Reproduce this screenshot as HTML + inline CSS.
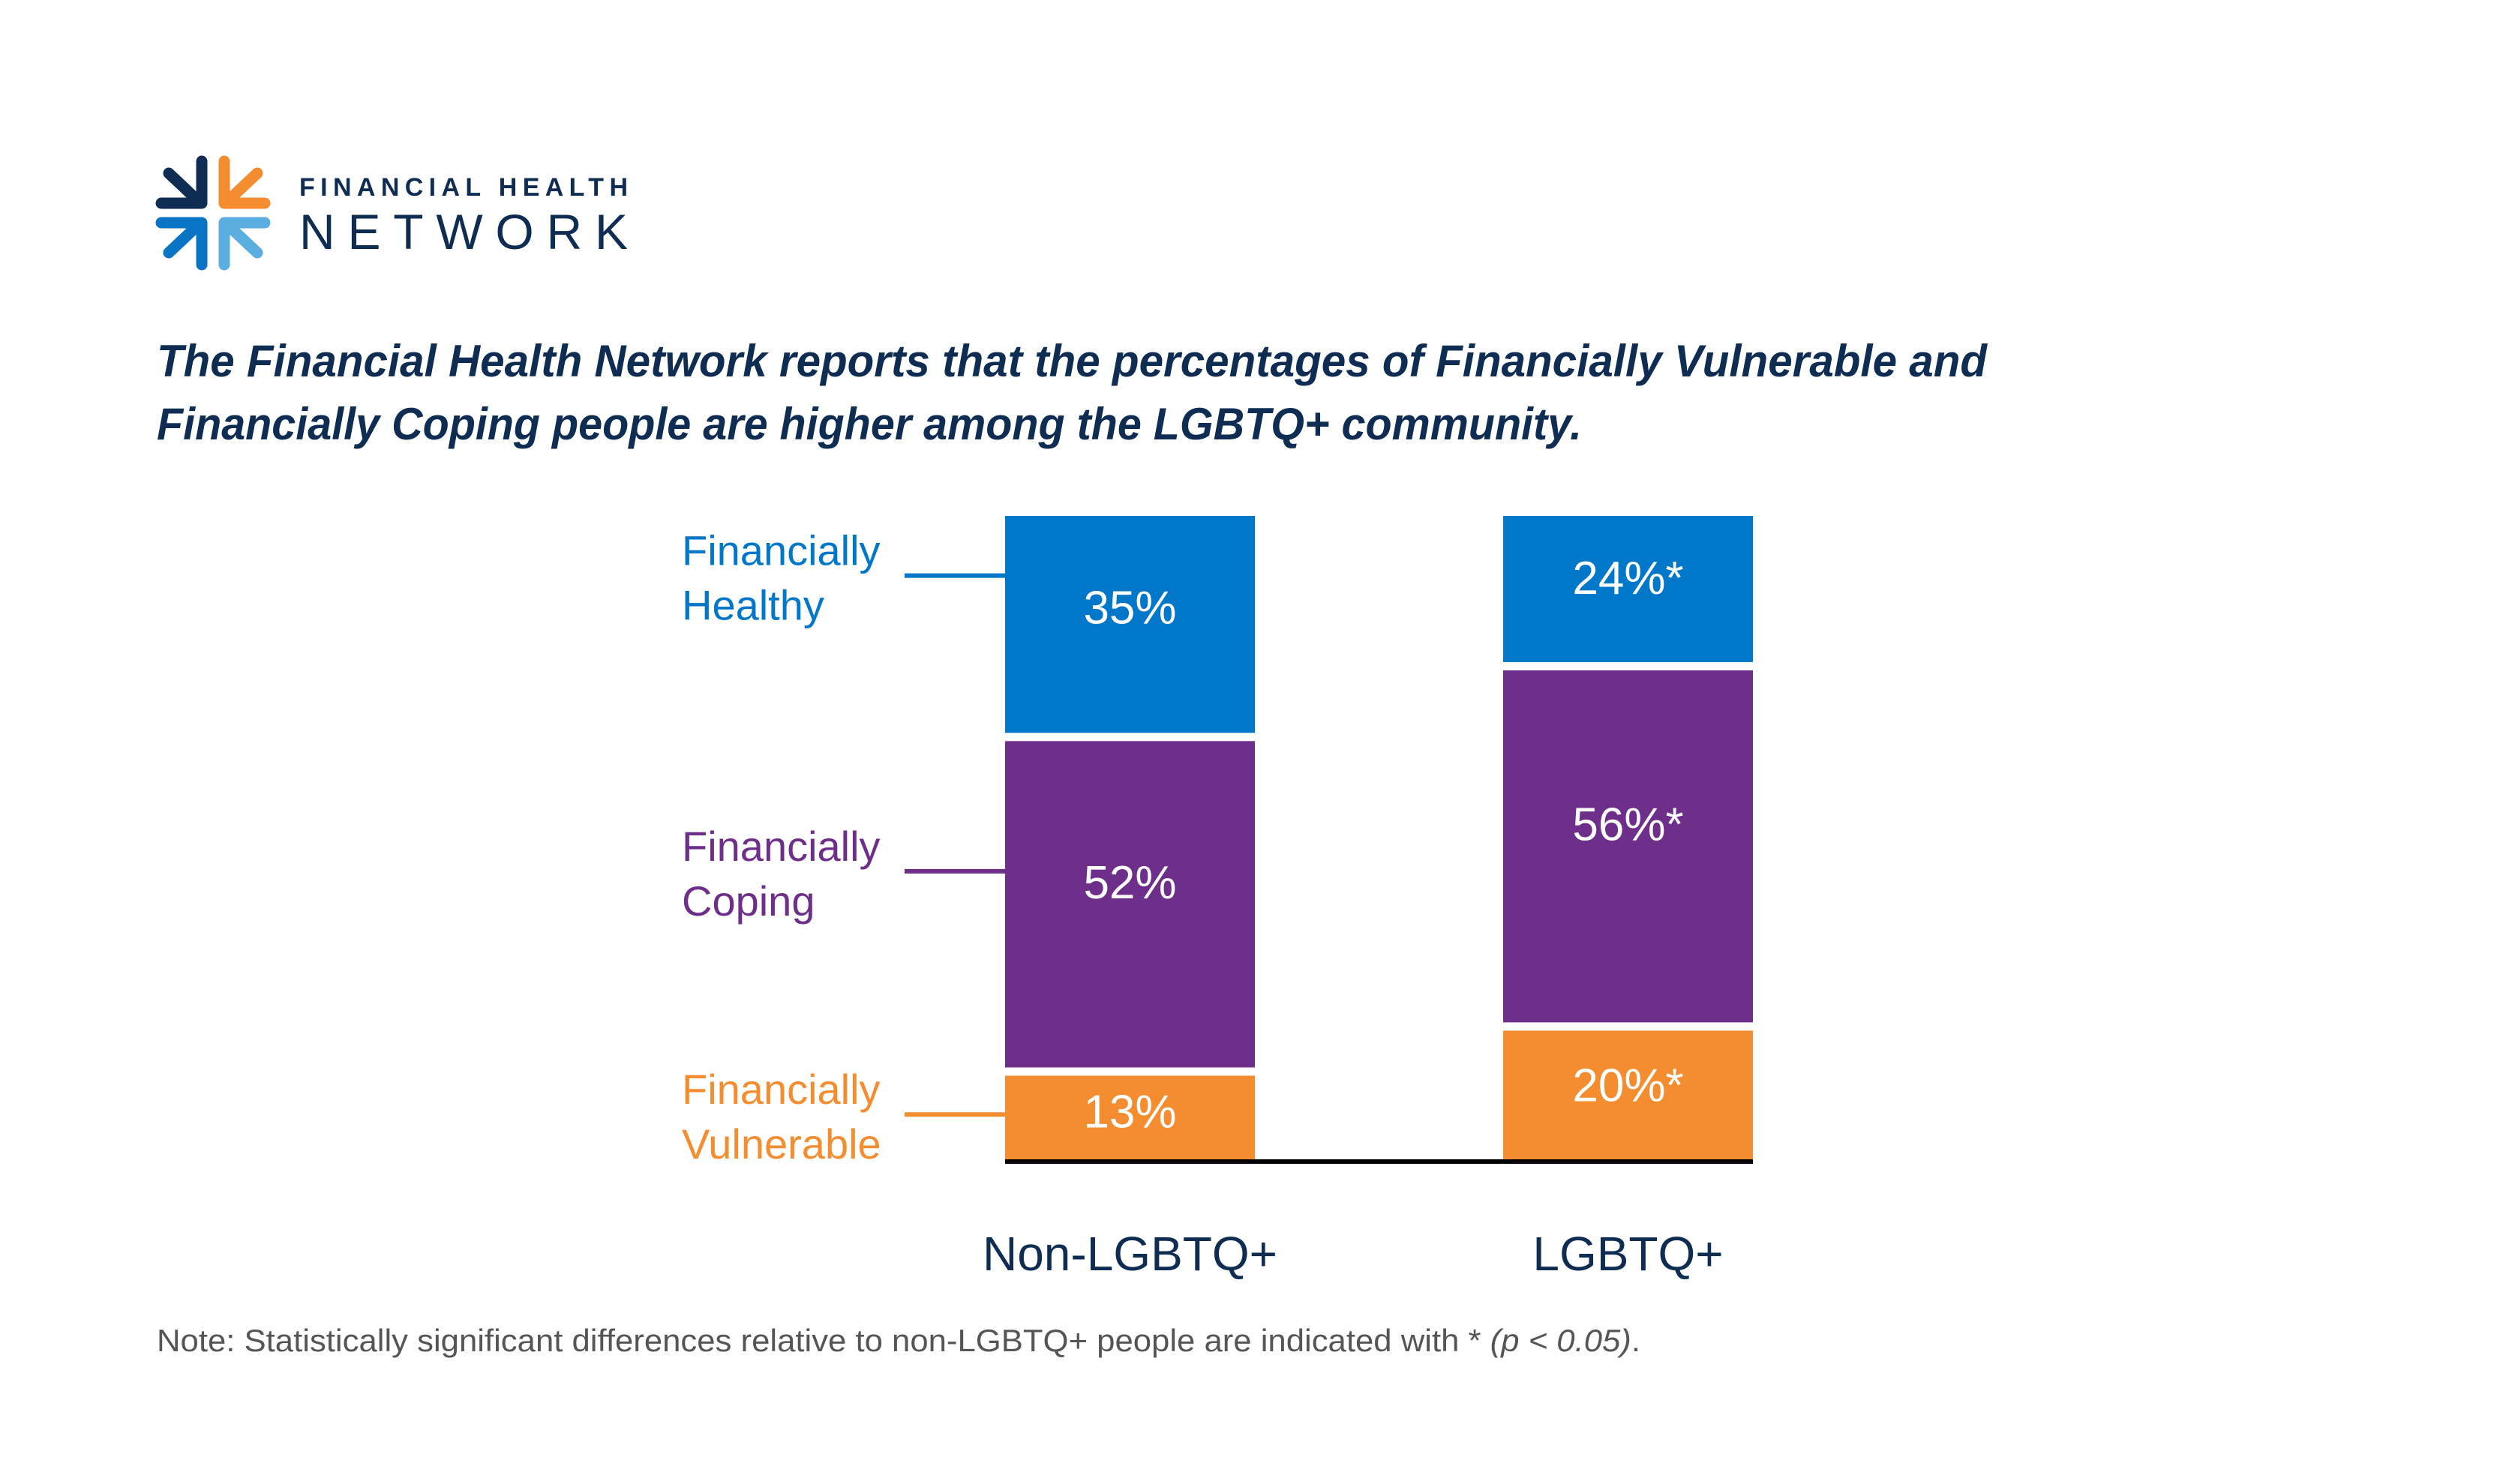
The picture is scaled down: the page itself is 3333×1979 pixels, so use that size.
<!DOCTYPE html>
<html><head><meta charset="utf-8"><style>
html,body{margin:0;padding:0;background:#fff}
svg{display:block}
text{font-family:"Liberation Sans",sans-serif}
</style></head><body>
<svg id="chart" width="3333" height="1979" viewBox="0 0 3333 1979" xmlns="http://www.w3.org/2000/svg">
<rect width="3333" height="1979" fill="#fff"/>
<g transform="translate(209,209)" stroke-linecap="round" stroke-linejoin="round" fill="none" stroke-width="15">
 <g stroke="#0f2d52"><path d="M60 6 V62 H6"/><path d="M16 22 L50 54"/></g>
 <g stroke="#f48d30"><path d="M90 6 V62 H144"/><path d="M134 22 L100 54"/></g>
 <g stroke="#0a74c4"><path d="M60 144 V88 H6"/><path d="M16 128 L50 96"/></g>
 <g stroke="#5aaee0"><path d="M90 144 V88 H144"/><path d="M134 128 L100 96"/></g>
</g>
<text x="399" y="261" font-size="34" font-weight="bold" fill="#0f2d52" textLength="438" lengthAdjust="spacing">FINANCIAL HEALTH</text>
<text x="399" y="332" font-size="66" fill="#0f2d52" textLength="438" lengthAdjust="spacing">NETWORK</text>
<text x="209" y="502" font-size="60" font-style="italic" font-weight="bold" fill="#0f2d52" textLength="2440" lengthAdjust="spacingAndGlyphs">The Financial Health Network reports that the percentages of Financially Vulnerable and</text>
<text x="209" y="586" font-size="60" font-style="italic" font-weight="bold" fill="#0f2d52" textLength="1900" lengthAdjust="spacingAndGlyphs">Financially Coping people are higher among the LGBTQ+ community.</text>
<g id="bars"></g>
<line x1="1340" x2="2337" y1="1549" y2="1549" stroke="#000" stroke-width="6"/>
<text x="209" y="1802" font-size="42" fill="#555" textLength="1978" lengthAdjust="spacingAndGlyphs">Note: Statistically significant differences relative to non-LGBTQ+ people are indicated with * <tspan font-style="italic">(p &lt; 0.05)</tspan>.</text>
</svg>
<script>
const categories = ["Non-LGBTQ+", "LGBTQ+"];
const seriesNames = ["Financially Vulnerable", "Financially Coping", "Financially Healthy"];
const vulnerable = [13, 20];
const coping = [52, 56];
const healthy = [35, 24];
const valueLabels = [["13%", "20%*"], ["52%", "56%*"], ["35%", "24%*"]];
const legendLines = [["Financially", "Vulnerable"], ["Financially", "Coping"], ["Financially", "Healthy"]];

const NS = "http://www.w3.org/2000/svg";
const colors = ["#f48d30", "#6e2f8a", "#0077c8"];
const baseY = 1546, pxPer = 8.58, gap = 11;
const barLeft = [1340, 2004], barW = 333;
const leaderOffset = [-4, -44, -65];
const y = v => baseY - v * pxPer;
const g = document.getElementById("bars");
const series = [vulnerable, coping, healthy];
function mk(tag, attrs) { const e = document.createElementNS(NS, tag); for (const k in attrs) e.setAttribute(k, attrs[k]); return e; }

categories.forEach((cat, ci) => {
  let cum = 0;
  series.forEach((s, si) => {
    const v = s[ci];
    const top = y(cum + v), bottom = y(cum) - (cum > 0 ? gap : 0);
    const h = Math.max(0, bottom - top);
    const r = mk("rect", {x: barLeft[ci], y: top, width: barW, height: h, fill: colors[si]});
    
    
    g.appendChild(r);
    const mid = (top + bottom) / 2;
    const ly = mid - Math.min(30, h * 0.08);
    const t = mk("text", {x: barLeft[ci] + barW / 2, y: ly + 22, "text-anchor": "middle", "font-size": "62", fill: "#fff"});
    t.textContent = valueLabels[si][ci];
    
    
    g.appendChild(t);
    if (ci === 0) {
      const lineY = mid + leaderOffset[si];
      const l = mk("line", {x1: 1206, x2: barLeft[0], y1: lineY, y2: lineY, stroke: colors[si], "stroke-width": 6});
      
      
      g.appendChild(l);
      legendLines[si].forEach((txt, k) => {
        const lt = mk("text", {x: 909, y: lineY - 14 + k * 73, "font-size": "56", fill: colors[si]});
        lt.textContent = txt;
        
        
        g.appendChild(lt);
      });
    }
    cum += v;
  });
  const c = mk("text", {x: barLeft[ci] + barW / 2, y: 1694, "text-anchor": "middle", "font-size": "64", fill: "#0f2d52"});
  c.textContent = cat;
  
  
  g.appendChild(c);
});
</script>
</body></html>
